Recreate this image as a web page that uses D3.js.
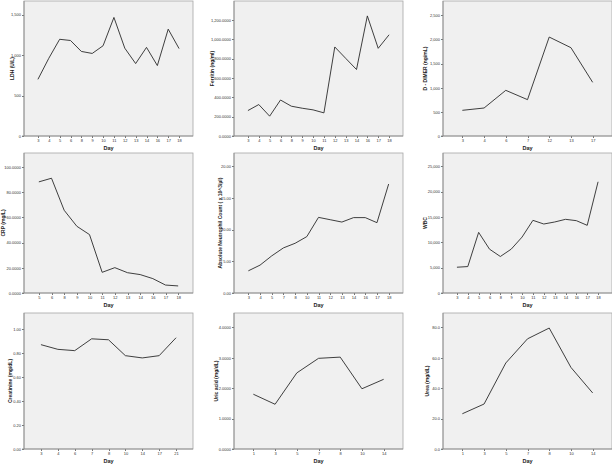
<!DOCTYPE html>
<html>
<head>
<meta charset="utf-8">
<script src="https://cdn.jsdelivr.net/npm/d3@7"></script>
<style>
  body { margin: 0; background: #fff; }
  svg { display: block; font-family: "Liberation Sans", Arial, sans-serif; }
  .axis path, .axis line { stroke: #777; shape-rendering: crispEdges; }
  .axis text { fill: #333; font-size: 4px; }
</style>
</head>
<body>
<svg id="chart" width="612" height="465"></svg>
<script>
/* Lab values by hospital day: 3x3 small-multiple line charts */

// --- Data ---
const ldhDays = [3, 4, 5, 6, 8, 9, 10, 11, 12, 13, 14, 16, 17, 18];
const ldhValues = [700, 960, 1195, 1180, 1045, 1020, 1115, 1465, 1085, 895, 1095, 870, 1320, 1080];
const ldhTicks = [0, 500, 1000, 1500];

const ferritinDays = [3, 4, 5, 6, 8, 9, 10, 11, 12, 13, 14, 16, 17, 18];
const ferritinValues = [263, 325, 205, 372, 308, 287, 270, 239, 920, 803, 687, 1241, 906, 1046];
const ferritinTicks = [0, 200, 400, 600, 800, 1000, 1200];

const ddimerDays = [3, 4, 6, 7, 12, 13, 17];
const ddimerValues = [532, 580, 946, 753, 2050, 1830, 1112];
const ddimerTicks = [0, 500, 1000, 1500, 2000, 2500];

const crpDays = [5, 6, 8, 9, 10, 11, 12, 13, 14, 16, 17, 18];
const crpValues = [88.1, 91.0, 65.6, 52.9, 46.3, 16.4, 20.1, 16.1, 14.6, 11.4, 6.3, 5.6];
const crpTicks = [0, 20, 40, 60, 80, 100];

const ancDays = [3, 4, 5, 7, 8, 10, 11, 12, 13, 14, 16, 17, 18];
const ancValues = [3.5, 4.4, 5.86, 7.12, 7.85, 8.9, 11.94, 11.57, 11.2, 11.9, 11.9, 11.1, 17.2];
const ancTicks = [0, 5, 10, 15, 20];

const wbcDays = [3, 4, 5, 6, 8, 9, 10, 11, 12, 13, 14, 16, 17, 18];
const wbcValues = [5090, 5220, 11970, 8660, 7210, 8660, 11045, 14350, 13625, 14020, 14550, 14285, 13360, 21960];
const wbcTicks = [0, 5000, 10000, 15000, 20000, 25000];

const creatinineDays = [3, 4, 6, 7, 8, 10, 14, 17, 21];
const creatinineValues = [0.873, 0.834, 0.823, 0.922, 0.914, 0.781, 0.762, 0.781, 0.931];
const creatinineTicks = [0, 0.2, 0.4, 0.6, 0.8, 1.0];

const uricDays = [1, 3, 5, 7, 8, 10, 14];
const uricValues = [1.80, 1.47, 2.50, 2.98, 3.02, 1.98, 2.29];
const uricTicks = [0, 1, 2, 3, 4];

const ureaDays = [1, 3, 5, 7, 8, 10, 14];
const ureaValues = [23.2, 29.6, 56.6, 72.5, 79.6, 53.7, 36.9];
const ureaTicks = [0, 20, 40, 60, 80];

// --- Panel table built from the arrays ---
const panels = [
  { days: ldhDays, values: ldhValues, ticks: ldhTicks, fmt: ",.0f", ymax: 1668, label: "LDH (U/L)" },
  { days: ferritinDays, values: ferritinValues, ticks: ferritinTicks, fmt: ",.4f", ymax: 1395, label: "Ferritin (ng/ml)" },
  { days: ddimerDays, values: ddimerValues, ticks: ddimerTicks, fmt: ",.0f", ymax: 2797, label: "D - DIMER (ng/mL)" },
  { days: crpDays, values: crpValues, ticks: crpTicks, fmt: ",.4f", ymax: 111, label: "CRP (mg/L)" },
  { days: ancDays, values: ancValues, ticks: ancTicks, fmt: ".2f", ymax: 22.1, label: "Absolute Neutrophil Count ( x 10^3/µl)" },
  { days: wbcDays, values: wbcValues, ticks: wbcTicks, fmt: ",.0f", ymax: 27645, label: "WBC" },
  { days: creatinineDays, values: creatinineValues, ticks: creatinineTicks, fmt: ".2f", ymax: 1.138, label: "Creatinine (mg/dL)" },
  { days: uricDays, values: uricValues, ticks: uricTicks, fmt: ".4f", ymax: 4.47, label: "Uric acid (mg/dL)" },
  { days: ureaDays, values: ureaValues, ticks: ureaTicks, fmt: ".1f", ymax: 89.5, label: "Urea (mg/dL)" }
];

// --- Layout ---
const colLeft = [24, 234, 443];
const rowTop = [1, 153, 313];
const rowBottom = [136, 293, 449];
const W = 169;
const labelX = [12, 212.7, 425.7, 3, 220, 425, 10, 216.7, 427.3]; // y-title centre, page coords

const svg = d3.select("#chart");

panels.forEach((p, i) => {
  const col = i % 3, row = Math.floor(i / 3);
  const left = colLeft[col], top = rowTop[row];
  const h = rowBottom[row] - top;

  const g = svg.append("g").attr("transform", `translate(${left},${top})`);

  // plot frame
  g.append("rect")
    .attr("width", W)
    .attr("height", h)
    .attr("fill", "#f0f0f0")
    .attr("stroke", "#a6a6a6")
    .attr("stroke-width", 0.8);

  // scales
  const x = d3.scalePoint()
    .domain(p.days)
    .range([8.5, W - 8.5])
    .padding(0.5);

  const y = d3.scaleLinear()
    .domain([0, p.ymax])
    .range([h, 0]);

  // axes
  g.append("g")
    .attr("class", "axis")
    .call(d3.axisLeft(y).tickValues(p.ticks).tickFormat(d3.format(p.fmt)).tickSize(2).tickSizeOuter(0).tickPadding(1))
    .call(a => a.select(".domain").remove());

  g.append("g")
    .attr("class", "axis")
    .attr("transform", `translate(0,${h})`)
    .call(d3.axisBottom(x).tickSize(2).tickSizeOuter(0).tickPadding(1.5))
    .call(a => a.select(".domain").remove());

  // axis lines (left and bottom)
  g.append("line").attr("x1", 0).attr("x2", 0).attr("y1", 0).attr("y2", h)
    .attr("stroke", "#888").attr("stroke-width", 0.8);
  g.append("line").attr("x1", -2).attr("x2", W).attr("y1", h).attr("y2", h)
    .attr("stroke", "#888").attr("stroke-width", 0.8);

  // line
  const pts = p.days.map((d, k) => ({ day: d, v: p.values[k] }));
  g.append("path")
    .datum(pts)
    .attr("fill", "none")
    .attr("stroke", "#2a2a2a")
    .attr("stroke-width", 0.9)
    .attr("stroke-linejoin", "round")
    .attr("d", d3.line().x(d => x(d.day)).y(d => y(d.v)));

  // titles
  g.append("text")
    .attr("transform", `translate(${labelX[i] - left},${h / 2}) rotate(-90)`)
    .attr("text-anchor", "middle")
    .attr("dy", "0.35em")
    .attr("font-size", 5)
    .attr("font-weight", "bold")
    .attr("fill", "#222")
    .text(p.label);

  g.append("text")
    .attr("x", W / 2)
    .attr("y", h + 13.5)
    .attr("text-anchor", "middle")
    .attr("font-size", 5.5)
    .attr("font-weight", "bold")
    .attr("fill", "#222")
    .text("Day");
});
</script>
</body>
</html>
